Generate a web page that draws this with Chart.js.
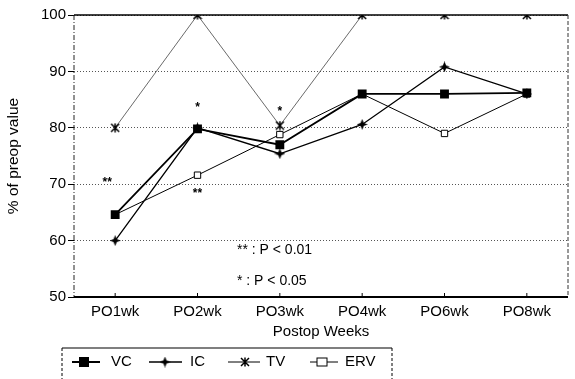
<!DOCTYPE html>
<html><head><meta charset="utf-8">
<script src="https://cdn.jsdelivr.net/npm/chart.js@4"></script>
<style>html,body{margin:0;padding:0;background:#fff}#wrap{width:575px;height:379px}</style>
</head><body><div id="wrap"><canvas id="c" width="575" height="379"></canvas></div>
<script>
const categories = ['PO1wk','PO2wk','PO3wk','PO4wk','PO6wk','PO8wk'];
const vcValues  = [64.6, 79.8, 77.0, 86.0, 86.0, 86.2];
const icValues  = [60.0, 80.0, 75.4, 80.6, 90.8, 86.0];
const tvValues  = [80.0, 100.0, 80.4, 100.0, 100.0, 100.0];
const ervValues = [64.6, 71.6, 78.8, 86.0, 79.0, 86.0];
const yTicks = [50, 60, 70, 80, 90, 100];
const sigMarks = [
  {text:'**', cat:0, value:70.2},
  {text:'*',  cat:1, value:83.6},
  {text:'**', cat:1, value:68.3},
  {text:'*',  cat:2, value:82.8}
];
const sigNotes = [
  {text:'** : P < 0.01', value:58.3},
  {text:'* : P < 0.05',  value:52.9}
];
const legendLabels = ['VC','IC','TV','ERV'];

const FONT = '"Liberation Sans", Arial, sans-serif';

function makeStar4(size){
  const c=document.createElement('canvas');c.width=size;c.height=size;
  const g=c.getContext('2d');const m=size/2;
  g.fillStyle='#000';g.beginPath();
  g.moveTo(m,0);g.lineTo(m+1.6,m-1.6);g.lineTo(size,m);g.lineTo(m+1.6,m+1.6);
  g.lineTo(m,size);g.lineTo(m-1.6,m+1.6);g.lineTo(0,m);g.lineTo(m-1.6,m-1.6);g.closePath();g.fill();
  return c;
}
function makeAsterisk(size){
  const c=document.createElement('canvas');c.width=size;c.height=size;
  const g=c.getContext('2d');const m=size/2;
  g.strokeStyle='#000';g.lineWidth=1.5;g.beginPath();
  g.moveTo(1,1);g.lineTo(size-1,size-1);g.moveTo(size-1,1);g.lineTo(1,size-1);
  g.moveTo(m,0.5);g.lineTo(m,size-0.5);
  g.stroke();
  return c;
}
const icPoint = makeStar4(11);
const tvPoint = makeAsterisk(10);

const decor = {
  id:'decor',
  beforeDatasetsDraw(chart){
    const {ctx, chartArea:a} = chart;
    ctx.save();
    ctx.strokeStyle='#000';ctx.lineWidth=1.5;ctx.setLineDash([]);
    ctx.beginPath();ctx.moveTo(a.left,a.top);ctx.lineTo(a.right,a.top);ctx.stroke();
    ctx.lineWidth=1;ctx.setLineDash([4,2]);ctx.strokeStyle='#333';
    ctx.beginPath();ctx.moveTo(a.right,a.top);ctx.lineTo(a.right,a.bottom);ctx.stroke();
    ctx.setLineDash([5,2,1,2]);ctx.strokeStyle='#222';
    ctx.beginPath();ctx.moveTo(a.left,a.top);ctx.lineTo(a.left,a.bottom);ctx.stroke();
    ctx.setLineDash([]);ctx.lineWidth=2;ctx.strokeStyle='#000';
    ctx.beginPath();ctx.moveTo(a.left,a.bottom);ctx.lineTo(a.right,a.bottom);ctx.stroke();
    const xs=chart.scales.x;ctx.lineWidth=1;
    categories.forEach((c,i)=>{const x=xs.getPixelForValue(i);ctx.beginPath();ctx.moveTo(x,a.bottom);ctx.lineTo(x,a.bottom-4);ctx.stroke();});
    ctx.restore();
  },
  afterDatasetsDraw(chart){
    const {ctx} = chart;const xs=chart.scales.x, ys=chart.scales.y;
    ctx.save();ctx.fillStyle='#000';
    ctx.font='bold 12px '+FONT;ctx.textAlign='center';ctx.textBaseline='middle';
    sigMarks.forEach(m=>{
      const dx = m.cat===0 ? -8 : 0;
      ctx.fillText(m.text, xs.getPixelForValue(m.cat)+dx, ys.getPixelForValue(m.value));
    });
    ctx.textAlign='left';
    sigNotes.forEach(n=>{
      ctx.font='14px '+FONT;
      ctx.fillText(n.text, 237, ys.getPixelForValue(n.value));
    });
    const top=348;
    ctx.strokeStyle='#000';ctx.lineWidth=1.2;ctx.setLineDash([]);
    ctx.beginPath();ctx.moveTo(62,top);ctx.lineTo(392,top);ctx.stroke();
    ctx.lineWidth=1;ctx.setLineDash([3,2]);
    ctx.beginPath();ctx.moveTo(62,top);ctx.lineTo(62,379);ctx.moveTo(392,top);ctx.lineTo(392,379);ctx.stroke();
    ctx.setLineDash([]);
    const ly=362;
    const items=[
      {x1:72,x2:100,mx:84,tx:111,w:2,draw:(x,y)=>{ctx.fillRect(x-5,y-5,10,10);}},
      {x1:149,x2:182,mx:165,tx:190,w:1.3,draw:(x,y)=>{ctx.drawImage(icPoint,x-5.5,y-5.5);}},
      {x1:228,x2:260,mx:245,tx:266,w:1,draw:(x,y)=>{ctx.drawImage(tvPoint,x-5,y-5);}},
      {x1:310,x2:338,mx:322,tx:345,w:1,draw:(x,y)=>{ctx.fillStyle='#fff';ctx.fillRect(x-5,y-4,10,8);ctx.strokeRect(x-5,y-4,10,8);ctx.fillStyle='#000';}}
    ];
    ctx.font='15px '+FONT;ctx.textBaseline='middle';ctx.textAlign='left';
    items.forEach((it,i)=>{
      ctx.strokeStyle='#000';ctx.lineWidth=it.w;
      ctx.beginPath();ctx.moveTo(it.x1,ly);ctx.lineTo(it.x2,ly);ctx.stroke();
      ctx.lineWidth=1;it.draw(it.mx,ly);
      ctx.fillText(legendLabels[i], it.tx, ly);
    });
    ctx.restore();
  }
};

new Chart(document.getElementById('c'), {
  type:'line',
  data:{
    labels:categories,
    datasets:[
      {label:'VC',data:vcValues,borderColor:'#000',backgroundColor:'#000',borderWidth:1.8,pointStyle:'rect',pointRadius:5,tension:0},
      {label:'IC',data:icValues,borderColor:'#000',backgroundColor:'#000',borderWidth:1.3,pointStyle:icPoint,tension:0},
      {label:'TV',data:tvValues,borderColor:'#444',backgroundColor:'#000',borderWidth:0.8,pointStyle:tvPoint,tension:0},
      {label:'ERV',data:ervValues,borderColor:'#000',backgroundColor:'#fff',borderWidth:1,pointStyle:'rect',pointRadius:4.5,pointBorderWidth:1,tension:0}
    ]
  },
  options:{
    responsive:false,animation:false,
    layout:{padding:{left:4,right:7,top:15,bottom:38}},
    plugins:{legend:{display:false},tooltip:{enabled:false}},
    scales:{
      x:{
        offset:true,
        grid:{display:false,drawTicks:false},
        border:{display:false},
        ticks:{color:'#000',font:{family:FONT,size:15},padding:6},
        title:{display:true,text:'Postop Weeks',color:'#000',font:{family:FONT,size:15},padding:{top:2,bottom:0}},
        afterFit(s){s.height=44;}
      },
      y:{
        min:50,max:100,
        afterBuildTicks(s){s.ticks=yTicks.map(v=>({value:v}));},
        grid:{color:'#555',lineWidth:1,tickLength:6,tickColor:'#000',tickBorderDash:[],drawOnChartArea:true},
        border:{display:false,dash:[1,2]},
        ticks:{color:'#000',font:{family:FONT,size:15},padding:2},
        title:{display:true,text:'% of preop value',color:'#000',font:{family:FONT,size:15.5},padding:{top:0,bottom:4}},
        afterFit(s){s.width=70;}
      }
    }
  },
  plugins:[decor]
});
</script>
</body></html>
